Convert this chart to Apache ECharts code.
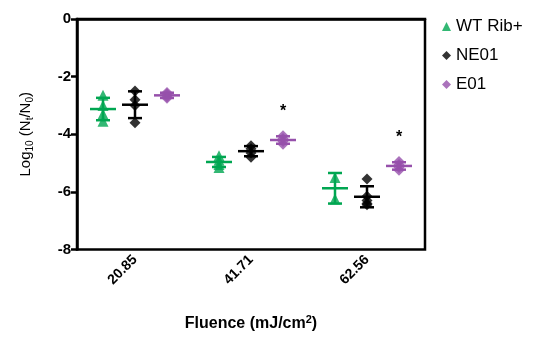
<!DOCTYPE html>
<html>
<head>
<meta charset="utf-8">
<script src="https://cdn.jsdelivr.net/npm/echarts@6/dist/echarts.min.js"></script>
<style>
  html, body { margin: 0; padding: 0; background: #fff; }
  #chart { width: 535px; height: 337px; }
</style>
</head>
<body>
<div id="chart"></div>
<script>
// fluence levels (x categories)
const fluence = ['20.85', '41.71', '62.56'];
const yTicks = [0, -2, -4, -6, -8];

// log10(Nt/N0) replicates per fluence
const wtRib = [
  [-2.65, -3.0, -3.3, -3.55],
  [-4.75, -4.9, -5.05, -5.15],
  [-5.5, -6.25]
];
const ne01 = [
  [-2.5, -2.8, -3.0, -3.6],
  [-4.4, -4.5, -4.65, -4.8],
  [-5.55, -6.15, -6.3, -6.4, -6.45]
];
const e01 = [
  [-2.55, -2.6, -2.7, -2.75],
  [-4.05, -4.15, -4.25, -4.35],
  [-4.95, -5.05, -5.15, -5.25]
];
// significance star above E01
const e01Sig = [false, true, true];

const groups = [
  { name: 'WT Rib+', data: wtRib, color: '#00a651', symbol: 'triangle', dx: -32, size: 11 },
  { name: 'NE01', data: ne01, color: '#000000', symbol: 'diamond', dx: 0, size: 11 },
  { name: 'E01', data: e01, color: '#9650ab', symbol: 'diamond', dx: 32, size: 11, sig: e01Sig }
];

function meanSd(arr) {
  const m = arr.reduce((a, b) => a + b, 0) / arr.length;
  const v = arr.reduce((a, b) => a + (b - m) * (b - m), 0) / (arr.length - 1);
  return [m, Math.sqrt(v)];
}

const chart = echarts.init(document.getElementById('chart'), null, { renderer: 'canvas' });

const series = [];
groups.forEach(function (g) {
  const pts = [];
  g.data.forEach(function (vals, i) {
    vals.forEach(function (v) { pts.push([i, v]); });
  });
  series.push({
    name: g.name,
    type: 'scatter',
    data: pts,
    symbol: g.symbol,
    symbolSize: g.size,
    symbolOffset: [g.dx, 0],
    itemStyle: { color: g.color },
    z: 3
  });

  // mean + SD bars (and stars)
  const stats = g.data.map(function (vals, i) {
    const ms = meanSd(vals);
    return [i, ms[0], ms[1], Math.max.apply(null, vals), g.sig && g.sig[i] ? 1 : 0];
  });
  series.push({
    name: g.name,
    type: 'custom',
    data: stats,
    z: 4,
    renderItem: function (params, api) {
      const i = api.value(0), m = api.value(1), sd = api.value(2);
      const c = api.coord([i, m]);
      const top = api.coord([i, m + sd]);
      const bot = api.coord([i, m - sd]);
      const x = c[0] + g.dx;
      const st = { stroke: g.color, lineWidth: 2.5 };
      const kids = [
        { type: 'line', shape: { x1: x - 13, y1: c[1], x2: x + 13, y2: c[1] }, style: st },
        { type: 'line', shape: { x1: x, y1: top[1], x2: x, y2: bot[1] }, style: st },
        { type: 'line', shape: { x1: x - 7, y1: top[1], x2: x + 7, y2: top[1] }, style: st },
        { type: 'line', shape: { x1: x - 7, y1: bot[1], x2: x + 7, y2: bot[1] }, style: st }
      ];
      if (api.value(4)) {
        const mx = api.coord([i, api.value(3)]);
        kids.push({
          type: 'text',
          style: { x: x, y: mx[1] - 24, text: '*', fill: '#000', font: 'bold 16px "Liberation Sans", Arial', align: 'center', verticalAlign: 'middle' }
        });
      }
      return { type: 'group', children: kids };
    }
  });
});

const option = {
  animation: false,
  backgroundColor: '#fff',
  grid: {
    left: 77, right: 110, top: 19, bottom: 85,
    show: true, borderColor: '#000', borderWidth: 2.5
  },
  legend: {
    orient: 'vertical',
    left: 437, top: 13,
    itemWidth: 9, itemHeight: 9,
    itemGap: 12,
    data: groups.map(function (g) { return { name: g.name, icon: g.symbol }; }),
    textStyle: { fontSize: 17, color: '#000', fontFamily: '"Liberation Sans", Arial' }
  },
  xAxis: {
    type: 'category',
    data: fluence,
    boundaryGap: true,
    axisLine: { lineStyle: { color: '#000', width: 2.5 } },
    axisTick: { alignWithLabel: true, length: 6, lineStyle: { color: '#000', width: 2.5 } },
    axisLabel: { rotate: 45, fontWeight: 'bold', fontSize: 14, color: '#000', margin: 8, fontFamily: '"Liberation Sans", Arial' },
    splitLine: { show: false },
    name: 'Fluence (mJ/cm{sup|2})',
    nameLocation: 'middle',
    nameGap: 65,
    nameTextStyle: {
      fontWeight: 'bold', fontSize: 16, color: '#000', fontFamily: '"Liberation Sans", Arial',
      rich: { sup: { fontSize: 11, fontWeight: 'bold', verticalAlign: 'top', padding: [0, 0, 8, 0] } }
    }
  },
  yAxis: {
    type: 'value',
    min: yTicks[yTicks.length - 1], max: yTicks[0], interval: 2,
    axisLine: { show: true, lineStyle: { color: '#000', width: 2.5 } },
    axisTick: { show: true, length: 6, lineStyle: { color: '#000', width: 2.5 } },
    axisLabel: { fontWeight: 'bold', fontSize: 15, color: '#000', margin: 6, fontFamily: '"Liberation Sans", Arial' },
    splitLine: { show: false },
    name: 'Log{sub|10} (N{sub|t}/N{sub|0})',
    nameLocation: 'middle',
    nameGap: 42,
    nameTextStyle: {
      fontSize: 15, color: '#000', fontFamily: '"Liberation Sans", Arial',
      rich: { sub: { fontSize: 10, verticalAlign: 'bottom', padding: [8, 0, 0, 0] } }
    }
  },
  series: series
};

chart.setOption(option);
</script>
</body>
</html>
